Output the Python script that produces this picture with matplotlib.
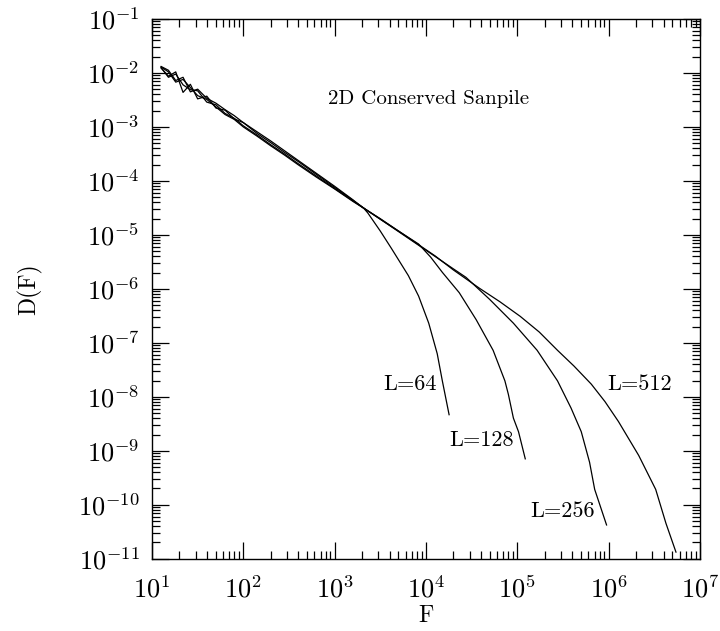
import numpy as np
import matplotlib
matplotlib.use("Agg")
import matplotlib.pyplot as plt
from matplotlib.ticker import LogLocator, FuncFormatter, NullFormatter

plt.rcParams['mathtext.fontset'] = 'cm'
plt.rcParams['font.family'] = ['cmr10', 'DejaVu Serif']

# values, as log10(F) and log10(D(F))
logF_64 = [1.10, 1.18, 1.26, 1.34, 1.42, 1.50, 1.60, 1.70, 1.80, 1.90, 2.00, 2.15,
           2.30, 2.45, 2.60, 2.80, 3.00, 3.20, 3.32, 3.363, 3.50, 3.622, 3.807, 3.919,
           4.030, 4.123, 4.179, 4.253]
logD_64 = [-1.88, -1.95, -2.14, -2.08, -2.35, -2.30, -2.47, -2.56, -2.68, -2.79, -2.92, -3.09,
           -3.26, -3.44, -3.62, -3.86, -4.10, -4.35, -4.51, -4.594, -4.93, -5.252, -5.755, -6.134,
           -6.636, -7.202, -7.705, -8.332]

logF_128 = [1.10, 1.18, 1.26, 1.34, 1.42, 1.50, 1.60, 1.70, 1.80, 1.90, 2.00, 2.15,
            2.30, 2.45, 2.60, 2.80, 3.00, 3.20, 3.35, 3.50, 3.70, 3.919, 4.05, 4.179, 4.364,
            4.550, 4.735, 4.864, 4.902, 4.957, 5.013, 5.087]
logD_128 = [-1.91, -2.06, -1.98, -2.36, -2.21, -2.48, -2.43, -2.65, -2.69, -2.85, -2.92, -3.12,
            -3.29, -3.47, -3.64, -3.88, -4.12, -4.36, -4.54, -4.71, -4.93, -5.170, -5.41, -5.694, -6.071,
            -6.573, -7.139, -7.705, -7.955, -8.395, -8.647, -9.150]

logF_256 = [1.10, 1.18, 1.26, 1.34, 1.42, 1.50, 1.60, 1.70, 1.80, 1.90, 2.00, 2.15,
            2.30, 2.45, 2.60, 2.80, 3.00, 3.20, 3.35, 3.50, 3.70, 3.90, 4.10, 4.30,
            4.438, 4.698, 4.957, 5.217, 5.440, 5.588, 5.700, 5.791, 5.847, 5.977]
logD_256 = [-1.90, -2.08, -2.02, -2.22, -2.31, -2.33, -2.54, -2.59, -2.75, -2.84, -2.98, -3.15,
            -3.33, -3.50, -3.68, -3.91, -4.14, -4.37, -4.54, -4.71, -4.94, -5.17, -5.40, -5.63,
            -5.787, -6.197, -6.636, -7.139, -7.705, -8.208, -8.647, -9.213, -9.716, -10.375]

logF_512 = [1.10, 1.18, 1.26, 1.34, 1.42, 1.50, 1.60, 1.70, 1.80, 1.90, 2.00, 2.15,
            2.30, 2.45, 2.60, 2.80, 3.00, 3.20, 3.35, 3.50, 3.70, 3.90, 4.10, 4.30,
            4.586, 4.81, 5.032, 5.24, 5.440, 5.62, 5.810, 5.96, 6.107, 6.329, 6.515, 6.627, 6.737]
logD_512 = [-1.89, -1.98, -2.17, -2.12, -2.27, -2.42, -2.49, -2.63, -2.77, -2.86, -3.00, -3.17,
            -3.35, -3.52, -3.70, -3.93, -4.15, -4.38, -4.54, -4.70, -4.93, -5.16, -5.39, -5.65,
            -5.99, -6.24, -6.510, -6.80, -7.139, -7.43, -7.766, -8.09, -8.458, -9.087, -9.716, -10.343, -10.878]

curves = [(logF_64, logD_64), (logF_128, logD_128), (logF_256, logD_256), (logF_512, logD_512)]

fig = plt.figure(figsize=(7.2, 6.31), dpi=100)
ax = fig.add_axes([0.2111, 0.1146, 0.7611, 0.8553])

for lf, ld in curves:
    ax.plot(10 ** np.array(lf), 10 ** np.array(ld), color='black', lw=0.9)

ax.set_xscale('log')
ax.set_yscale('log')
ax.set_xlim(1e1, 1e7)
ax.set_ylim(1e-11, 1e-1)

ax.xaxis.set_major_locator(LogLocator(base=10, numticks=20))
ax.yaxis.set_major_locator(LogLocator(base=10, numticks=20))
ax.xaxis.set_minor_locator(LogLocator(base=10, subs=np.arange(2, 10), numticks=20))
ax.yaxis.set_minor_locator(LogLocator(base=10, subs=np.arange(2, 10), numticks=20))
fmt = FuncFormatter(lambda v, p: r'$10^{%d}$' % int(round(np.log10(v))))
ax.xaxis.set_major_formatter(fmt)
ax.yaxis.set_major_formatter(fmt)
ax.xaxis.set_minor_formatter(NullFormatter())
ax.yaxis.set_minor_formatter(NullFormatter())

ax.tick_params(which='both', direction='in', top=True, right=True, width=0.9, labelsize=19)
ax.tick_params(which='major', length=12)
ax.tick_params(which='minor', length=6)
ax.tick_params(axis='x', which='major', pad=12)
ax.tick_params(axis='y', which='major', pad=9)
for s in ax.spines.values():
    s.set_linewidth(1.0)

ax.set_xlabel('F', fontsize=17, labelpad=2)
ax.set_ylabel('D(F)', fontsize=17, labelpad=26)

ax.text(10 ** 2.93, 10 ** -2.48, '2D Conserved Sanpile', ha='left', va='center', fontsize=15)
ax.text(10 ** 4.12, 10 ** -7.77, 'L=64', ha='right', va='center', fontsize=16)
ax.text(10 ** 4.25, 10 ** -8.80, 'L=128', ha='left', va='center', fontsize=16)
ax.text(10 ** 5.85, 10 ** -10.12, 'L=256', ha='right', va='center', fontsize=16)
ax.text(10 ** 5.98, 10 ** -7.77, 'L=512', ha='left', va='center', fontsize=16)

fig.savefig('out.png', dpi=100)
